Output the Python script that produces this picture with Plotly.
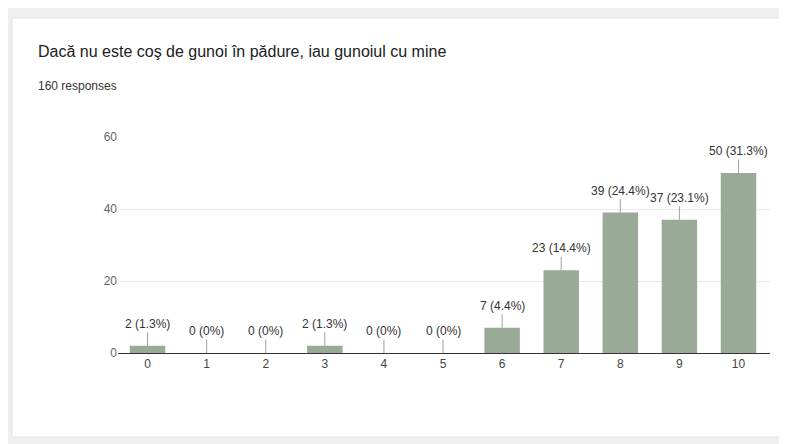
import plotly.graph_objects as go

# ----------------------------- DONNÉES ----------------------------- #
categories = ["0", "1", "2", "3", "4", "5", "6", "7", "8", "9", "10"]
counts = [2, 0, 0, 2, 0, 0, 7, 23, 39, 37, 50]
total_responses = 160
y_ticks = [0, 20, 40, 60]

title_text = "Dacă nu este coş de gunoi în pădure, iau gunoiul cu mine"
subtitle_text = f"{total_responses} responses"


def pct_label(v):
    # arrondi "half up" comme Google Forms
    p = int(v * 1000 / total_responses + 0.5) / 10
    p_txt = f"{p:.0f}" if p == int(p) else f"{p:.1f}"
    return f"{v} ({p_txt}%)"


labels = [pct_label(v) for v in counts]

FONT = "Arial, Liberation Sans, sans-serif"

fig = go.Figure()

fig.add_trace(go.Bar(
    x=categories,
    y=counts,
    marker=dict(color="#99aa97", line=dict(width=0)),
    width=0.6,
    hoverinfo="skip",
))

# Étiquettes avec petit trait au-dessus de chaque barre
for cat, v, lab in zip(categories, counts, labels):
    fig.add_annotation(
        x=cat, y=v, xref="x", yref="y",
        text=lab,
        showarrow=True, arrowhead=0, arrowwidth=1, arrowcolor="#a0a0a0",
        ax=0, ay=-22,
        font=dict(family=FONT, size=12, color="#333333"),
    )

# Titre et sous-titre
fig.add_annotation(
    x=-0.1258, y=1.394, xref="paper", yref="paper",
    xanchor="left", yanchor="middle", showarrow=False,
    text=title_text,
    font=dict(family=FONT, size=16, color="#202124"),
)
fig.add_annotation(
    x=-0.1258, y=1.236, xref="paper", yref="paper",
    xanchor="left", yanchor="middle", showarrow=False,
    text=subtitle_text,
    font=dict(family=FONT, size=12, color="#333333"),
)

# Carte blanche sur fond gris
fig.add_shape(
    type="rect", xref="paper", yref="paper",
    x0=-0.1626, x1=1.02, y0=-0.389, y1=1.551,
    fillcolor="white", line=dict(color="#e4e4e4", width=1),
    layer="below",
)

# la page HTML ajoute une marge de 8 px : figure réduite d'autant
fig.update_layout(
    width=779, height=436,
    margin=dict(l=110, r=17, t=129, b=91),
    paper_bgcolor="#efefef",
    plot_bgcolor="rgba(0,0,0,0)",
    showlegend=False,
    bargap=0.4,
    xaxis=dict(
        type="category",
        showgrid=False,
        showline=True, linecolor="#333333", linewidth=1,
        ticks="", tickfont=dict(family=FONT, size=12, color="#444444"),
        fixedrange=True,
    ),
    yaxis=dict(
        range=[0, 60],
        tickvals=y_ticks,
        showgrid=True, gridcolor="#e8e8e8", gridwidth=1,
        zeroline=False,
        ticks="", ticklen=0,
        tickfont=dict(family=FONT, size=12, color="#666666"),
        fixedrange=True,
    ),
)

fig.write_html("out.html")
